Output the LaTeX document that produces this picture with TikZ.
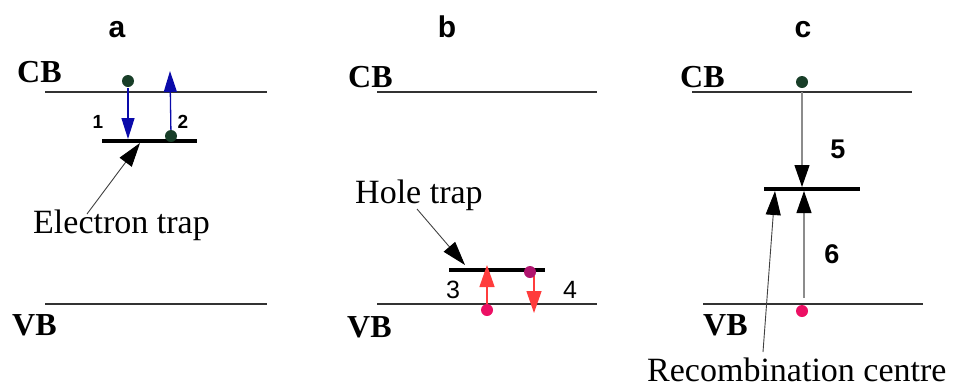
\documentclass[tikz,border=0pt]{standalone}
\usepackage{fontspec}
\setmainfont{Liberation Serif}
\newfontfamily\arialf{Liberation Sans}
\usetikzlibrary{arrows.meta}
\definecolor{dkgreen}{RGB}{24,62,40}
\definecolor{arrblue}{RGB}{10,10,170}
\definecolor{arrred}{RGB}{255,60,60}
\definecolor{dotpink}{RGB}{236,16,100}
\definecolor{dotpurple}{RGB}{176,20,110}
\definecolor{bandgray}{RGB}{50,50,50}
\begin{document}
\begin{tikzpicture}[x=1pt,y=-1pt,
  band/.style={line width=2pt, draw=bandgray},
  traplevel/.style={line width=4pt, draw=black},
  edot/.style={circle, inner sep=0pt, minimum size=12pt},
  bandlbl/.style={anchor=base west, inner sep=0pt, font=\fontsize{32}{36}\selectfont\bfseries},
  paneltitle/.style={anchor=base, inner sep=0pt, font=\arialf\fontsize{30}{34}\selectfont\bfseries},
  numsmall/.style={anchor=base, inner sep=0pt, font=\arialf\fontsize{19}{22}\selectfont\bfseries},
  nummid/.style={anchor=base, inner sep=0pt, font=\arialf\fontsize{25}{28}\selectfont},
  numbig/.style={anchor=base, inner sep=0pt, font=\arialf\fontsize{27}{30}\selectfont\bfseries},
  txt/.style={anchor=base west, inner sep=0pt, font=\fontsize{34}{38}\selectfont},
  bluearr/.style={draw=arrblue, line width=1.3pt, -{Triangle[length=21pt,width=13pt]}},
  redarr/.style={draw=arrred, line width=1.3pt, -{Triangle[length=22pt,width=15pt]}},
  pointer/.style={draw=black!75, line width=0.9pt, -{Triangle[length=24pt,width=15pt,fill=black,color=black]}},
  grayarr/.style={draw=black!45, line width=1.2pt, -{Triangle[length=22pt,width=15pt,fill=black,color=black]}},
]
\useasboundingbox (0,0) rectangle (954,389);

% panel titles
\node[paneltitle] (ta) at (117,37) {a};
\node[paneltitle] (tb) at (447,37) {b};
\node[paneltitle] (tc) at (803,37) {c};

% ---------- panel a ----------
\node[bandlbl] (cba) at (17,82) {CB};
\node[bandlbl] (vba) at (12,335) {VB};
\coordinate (cbaL) at (45,92); \coordinate (cbaR) at (267,92);
\coordinate (vbaL) at (45,304); \coordinate (vbaR) at (267,304);
\draw[band] (cbaL) -- (cbaR);
\draw[band] (vbaL) -- (vbaR);
\coordinate (trapaL) at (102,140.5); \coordinate (trapaR) at (197,140.5);
\draw[traplevel] (trapaL) -- (trapaR);
\coordinate (a1start) at (128,88);
\coordinate (a1end) at (128,139);
\coordinate (a2end) at (170,71);
\draw[bluearr] (a1start) -- (a1end);
\node[edot, fill=dkgreen] (ga1) at (128,81) {};
\node[edot, fill=dkgreen] (ga2) at (171,136) {};
\draw[bluearr] (ga2) -- (a2end);
\node[numsmall] (n1) at (98,128) {1};
\node[numsmall] (n2) at (183,128) {2};
\node[txt] (etrap) at (33,233) {Electron trap};
\coordinate (etS) at (87,214);
\coordinate (etE) at (140,143);
\draw[pointer] (etS) -- (etE);

% ---------- panel b ----------
\node[bandlbl] (cbb) at (348,87) {CB};
\node[bandlbl] (vbb) at (347,337) {VB};
\coordinate (cbbL) at (377,92); \coordinate (cbbR) at (597,92);
\coordinate (vbbL) at (377,304); \coordinate (vbbR) at (597,304);
\draw[band] (cbbL) -- (cbbR);
\draw[band] (vbbL) -- (vbbR);
\coordinate (trapbL) at (449,270); \coordinate (trapbR) at (545,270);
\draw[traplevel] (trapbL) -- (trapbR);
\node[txt] (htrap) at (355,203) {Hole trap};
\coordinate (htS) at (417,209);
\coordinate (htE) at (465,265);
\draw[pointer] (htS) -- (htE);
\coordinate (b3start) at (487,306);
\coordinate (b3end) at (487,265);
\coordinate (b4start) at (534,276);
\coordinate (b4end) at (534,313);
\draw[redarr] (b3start) -- (b3end);
\draw[redarr] (b4start) -- (b4end);
\node[edot, fill=dotpink] (pb1) at (487,310) {};
\node[edot, fill=dotpurple] (pb2) at (530,272) {};
\node[nummid] (n3) at (453,298) {3};
\node[nummid] (n4) at (570,298) {4};

% ---------- panel c ----------
\node[bandlbl] (cbc) at (680,87) {CB};
\node[bandlbl] (vbc) at (703,335) {VB};
\coordinate (cbcL) at (692,92); \coordinate (cbcR) at (912,92);
\coordinate (vbcL) at (703,304); \coordinate (vbcR) at (923,304);
\draw[band] (cbcL) -- (cbcR);
\draw[band] (vbcL) -- (vbcR);
\coordinate (trapcL) at (764,188.5); \coordinate (trapcR) at (860,188.5);
\draw[traplevel] (trapcL) -- (trapcR);
\coordinate (c5S) at (802,92);
\coordinate (c5E) at (802,187);
\coordinate (c6S) at (804,298);
\coordinate (c6E) at (804,191);
\draw[grayarr] (c5S) -- (c5E);
\draw[grayarr] (c6S) -- (c6E);
\node[edot, fill=dkgreen] (gc) at (802,82) {};
\node[edot, fill=dotpink] (pc) at (802,311) {};
\node[numbig] (n5) at (838,158) {5};
\node[numbig] (n6) at (832,263) {6};
\node[txt] (rcen) at (647,381) {Recombination centre};
\coordinate (rcS) at (763,352);
\coordinate (rcE) at (775,191);
\draw[pointer] (rcS) -- (rcE);
\end{tikzpicture}
\end{document}
